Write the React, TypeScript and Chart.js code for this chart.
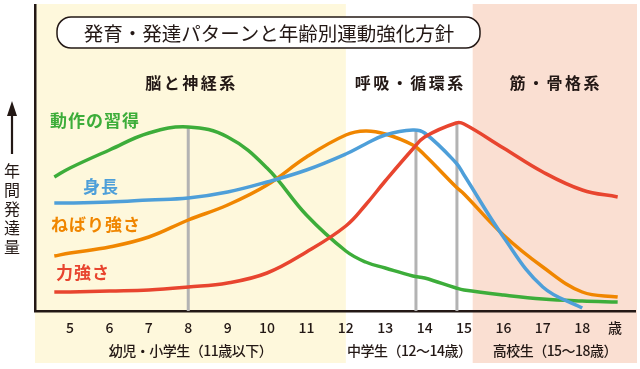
import React, { useEffect, useRef } from 'react';
import { Chart, registerables } from 'chart.js';

Chart.register(...registerables);

// ---- data ----
const ages = [4.6, 5, 6, 7, 8, 9, 10, 11, 12, 12.5, 13, 13.7, 14, 14.8, 15, 16, 17, 18, 18.9];
const motorSkill = [134, 143, 161, 178, 184, 174, 143, 96, 60, 49, 43, 35, 33, 23, 21, 16, 12, 10, 9];
const bodyHeight = [108, 108, 109, 111, 113, 119, 129, 141, 157, 167, 176, 181, 178, 148, 136, 74, 24, 3, null];
const endurance = [55, 58, 64, 74, 91, 106, 126, 154, 176, 180, 177, 166, 156, 124, 117, 76, 44, 19, 14];
const strength = [19, 19, 20, 21, 24, 28, 38, 59, 85, 106, 130, 162, 174, 188, 187, 163, 139, 121, 114];

const seriesNames = ['動作の習得', '身長', 'ねばり強さ', '力強さ'];
const tickValues = [5, 6, 7, 8, 9, 10, 11, 12, 13, 14, 15, 16, 17, 18, 18.83];
const tickLabels = ['5', '6', '7', '8', '9', '10', '11', '12', '13', '14', '15', '16', '17', '18', '歳'];

const zoneBounds = [12.0, 15.22];
const systemLabels = ['脳と神経系', '呼吸・循環系', '筋・骨格系'];
const stageLabels = ['幼児・小学生（11歳以下）', '中学生（12〜14歳）', '高校生（15〜18歳）'];

const markerAges = [8, 13.78, 14.82];
const markerTops = [184, 181, 188];

const title = '発育・発達パターンと年齢別運動強化方針';
const yAxisLabel = ['年', '間', '発', '達', '量'];

// ---- styles ----
const X_MIN = 4.11;
const X_MAX = 19.34;
const INK = '#231815';
const GREEN = '#3DAD3A';
const BLUE = '#4E9FD9';
const ORANGE = '#F08600';
const RED = '#E8452F';
const YELLOW_BG = '#FEF8DC';
const PINK_BG = '#FADFD2';
const GRAY = '#B3B3B3';
const FONT = '"Noto Sans CJK JP", "Noto Sans", sans-serif';

const bgPlugin = {
  id: 'bgPlugin',
  beforeDraw(chart: any) {
    const { ctx, chartArea, scales } = chart;
    const xs = scales.x;
    const x12 = xs.getPixelForValue(zoneBounds[0]);
    const x15 = xs.getPixelForValue(zoneBounds[1]);
    ctx.save();
    ctx.fillStyle = '#ffffff';
    ctx.fillRect(0, 0, chart.width, chart.height);
    ctx.fillStyle = YELLOW_BG;
    ctx.fillRect(chartArea.left, 4, x12 - chartArea.left, 363 - 4);
    ctx.fillStyle = PINK_BG;
    ctx.fillRect(x15, 4, chartArea.right + 2 - x15, 363 - 4);
    ctx.restore();
  },
  beforeDatasetsDraw(chart: any) {
    const { ctx, scales } = chart;
    ctx.save();
    ctx.strokeStyle = GRAY;
    ctx.lineWidth = 3;
    markerAges.forEach((a, i) => {
      const x = scales.x.getPixelForValue(a);
      ctx.beginPath();
      ctx.moveTo(x, scales.y.getPixelForValue(markerTops[i]));
      ctx.lineTo(x, scales.y.getPixelForValue(0));
      ctx.stroke();
    });
    ctx.restore();
  },
};

const overlayPlugin = {
  id: 'overlayPlugin',
  afterDraw(chart: any) {
    const { ctx, chartArea, scales } = chart;
    const xs = scales.x;
    const x12 = xs.getPixelForValue(zoneBounds[0]);
    const x15 = xs.getPixelForValue(zoneBounds[1]);
    const zoneCenters = [
      (chartArea.left + x12) / 2,
      (x12 + x15) / 2,
      (x15 + chartArea.right + 2) / 2,
    ];
    ctx.save();
    ctx.textBaseline = 'middle';
    ctx.textAlign = 'center';

    // title box
    const bx = 57, by = 17, bw = 423, bh = 31, r = 14;
    ctx.beginPath();
    ctx.moveTo(bx + r, by);
    ctx.lineTo(bx + bw - r, by);
    ctx.arcTo(bx + bw, by, bx + bw, by + r, r);
    ctx.lineTo(bx + bw, by + bh - r);
    ctx.arcTo(bx + bw, by + bh, bx + bw - r, by + bh, r);
    ctx.lineTo(bx + r, by + bh);
    ctx.arcTo(bx, by + bh, bx, by + bh - r, r);
    ctx.lineTo(bx, by + r);
    ctx.arcTo(bx, by, bx + r, by, r);
    ctx.closePath();
    ctx.fillStyle = '#ffffff';
    ctx.fill();
    ctx.strokeStyle = INK;
    ctx.lineWidth = 1.5;
    ctx.stroke();
    ctx.fillStyle = INK;
    ctx.font = `400 19.5px ${FONT}`;
    ctx.fillText(title, 269, by + bh / 2 + 1);

    // system labels
    ctx.font = `700 16px ${FONT}`;
    (ctx as any).letterSpacing = '2.5px';
    systemLabels.forEach((s, i) => {
      ctx.fillText(s, zoneCenters[i] + 1, 83);
    });
    (ctx as any).letterSpacing = '0px';

    // stage labels
    ctx.font = `500 14px ${FONT}`;
    (ctx as any).letterSpacing = '-0.5px';
    stageLabels.forEach((s, i) => {
      ctx.fillText(s, zoneCenters[i], 351);
    });
    (ctx as any).letterSpacing = '0px';

    // series labels
    ctx.textAlign = 'left';
    ctx.font = `700 17px ${FONT}`;
    (ctx as any).letterSpacing = '1px';
    const labelPos = [
      [50, 121, GREEN],
      [83, 187, BLUE],
      [51, 225, ORANGE],
      [56, 273, RED],
    ];
    seriesNames.forEach((s, i) => {
      const [x, y, c] = labelPos[i] as [number, number, string];
      ctx.fillStyle = c;
      ctx.fillText(s, x, y);
    });
    (ctx as any).letterSpacing = '0px';

    // y axis label with arrow
    ctx.fillStyle = INK;
    ctx.strokeStyle = INK;
    ctx.lineWidth = 2.2;
    ctx.beginPath();
    ctx.moveTo(12, 112);
    ctx.lineTo(12, 154);
    ctx.stroke();
    ctx.beginPath();
    ctx.moveTo(12, 101);
    ctx.lineTo(17, 116);
    ctx.lineTo(7, 116);
    ctx.closePath();
    ctx.fill();
    ctx.textAlign = 'center';
    ctx.font = `400 16px ${FONT}`;
    yAxisLabel.forEach((c, i) => {
      ctx.fillText(c, 12, 171 + i * 19);
    });
    ctx.restore();
  },
};

export default function App() {
  const ref = useRef<HTMLCanvasElement>(null);
  useEffect(() => {
    const canvas = ref.current;
    if (!canvas) return;
    const mk = (vals: (number | null)[]) => ages.map((a, i) => ({ x: a, y: vals[i] }));
    const chart = new Chart(canvas, {
      type: 'line',
      data: {
        datasets: [
          { label: seriesNames[3], data: mk(strength), borderColor: RED },
          { label: seriesNames[1], data: mk(bodyHeight), borderColor: BLUE },
          { label: seriesNames[2], data: mk(endurance), borderColor: ORANGE },
          { label: seriesNames[0], data: mk(motorSkill), borderColor: GREEN },
        ] as any,
      },
      options: {
        animation: false,
        responsive: false,
        devicePixelRatio: 1,
        layout: { padding: { top: 5, right: 5, left: 0, bottom: 0 } },
        plugins: { legend: { display: false }, tooltip: { enabled: false } },
        elements: {
          point: { radius: 0 },
          line: { borderWidth: 3.5, tension: 0.4, cubicInterpolationMode: 'default', fill: false, capBezierPoints: true },
        },
        scales: {
          x: {
            type: 'linear',
            min: X_MIN,
            max: X_MAX,
            grid: { display: false, drawTicks: false },
            border: { display: true, color: INK, width: 2.5 },
            ticks: {
              autoSkip: false,
              maxRotation: 0,
              padding: 8,
              color: INK,
              font: { family: FONT, size: 14, weight: '500' as any },
              callback: (_v: any, i: number) => tickLabels[i],
            },
            afterBuildTicks: (s: any) => {
              s.ticks = tickValues.map((v) => ({ value: v }));
            },
            afterFit: (s: any) => {
              s.height = 58;
            },
          },
          y: {
            min: 0,
            max: 306,
            grid: { display: false, drawTicks: false },
            border: { display: true, color: INK, width: 2.5 },
            ticks: { display: false },
            afterFit: (s: any) => {
              s.width = 35;
            },
          },
        },
      } as any,
      plugins: [bgPlugin, overlayPlugin],
    });
    return () => chart.destroy();
  }, []);
  return (
    <div style={{ position: 'fixed', left: 0, top: 0, width: 640, height: 369, background: '#fff' }}>
      <canvas ref={ref} width={640} height={369} style={{ width: 640, height: 369, display: 'block' }} />
    </div>
  );
}
